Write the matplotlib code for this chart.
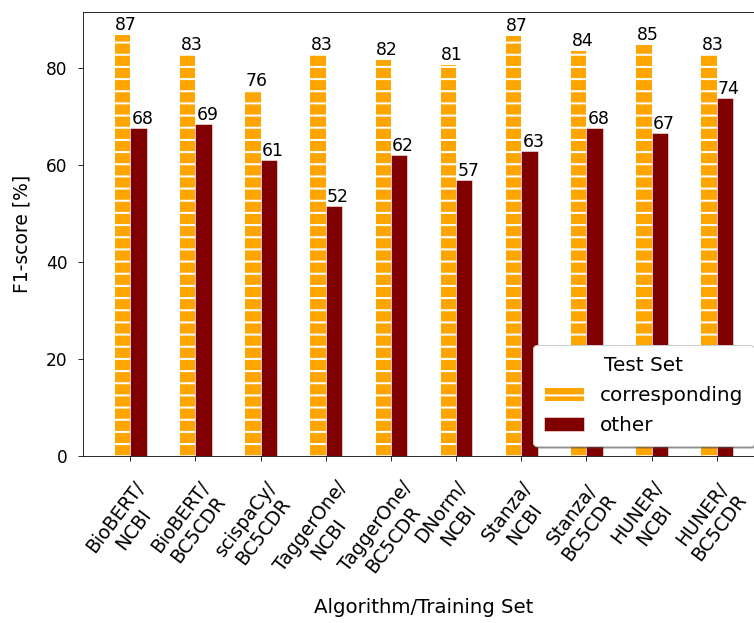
import matplotlib
matplotlib.use("Agg")
import matplotlib.pyplot as plt
import matplotlib.transforms as mtransforms
import numpy as np

# F1 scores per algorithm / training set
categories = ["BioBERT/\nNCBI", "BioBERT/\nBC5CDR", "scispaCy/\nBC5CDR", "TaggerOne/\nNCBI",
              "TaggerOne/\nBC5CDR", "DNorm/\nNCBI", "Stanza/\nNCBI", "Stanza/\nBC5CDR",
              "HUNER/\nNCBI", "HUNER/\nBC5CDR"]
corresponding = [87.2, 82.9, 75.6, 82.9, 81.9, 81.0, 87.0, 83.8, 85.0, 82.9]
other = [67.8, 68.6, 61.1, 51.6, 62.1, 56.9, 63.0, 67.8, 66.7, 73.9]
yticks = [0, 20, 40, 60, 80]

DPI = 73
plt.rcParams["hatch.linewidth"] = 2.0
fig = plt.figure(figsize=(755 / DPI, 623 / DPI), dpi=DPI)
ax = fig.add_axes([83 / 755, 167 / 623, 681 / 755, 443.5 / 623])

x = np.arange(len(categories))
w = 0.25
b1 = ax.bar(x - w / 2, corresponding, w, color="orange", edgecolor="white",
            hatch="-", linewidth=1, label="corresponding")
b2 = ax.bar(x + w / 2, other, w, color="maroon", edgecolor="white",
            linewidth=0.5, label="other")

for bars in (b1, b2):
    for r in bars:
        ax.text(r.get_x() + 0.02, r.get_height(), f"{r.get_height():.0f}",
                ha="left", va="bottom", fontsize=17)

ax.set_xticks(x)
ax.set_xticklabels(categories, rotation=53, fontsize=18.5)
ax.set_yticks(yticks)
ax.tick_params(axis="y", labelsize=16.8, length=5, pad=10)
ax.tick_params(axis="x", length=5, pad=16)
# nudge the rotated category labels slightly to the left of their ticks
shift = mtransforms.ScaledTranslation(-6 / DPI, 0, fig.dpi_scale_trans)
for lbl in ax.get_xticklabels():
    lbl.set_transform(lbl.get_transform() + shift)
ax.set_ylabel("F1-score [%]", fontsize=18.5, labelpad=14)
ax.set_xlabel("Algorithm/Training Set", fontsize=19.5, labelpad=10)

leg = ax.legend(title="Test Set", loc="lower right", shadow=True,
                fontsize=19.7, title_fontsize=19.7, labelspacing=0.55,
                borderpad=0.55)

fig.savefig("out.png", dpi=DPI)
